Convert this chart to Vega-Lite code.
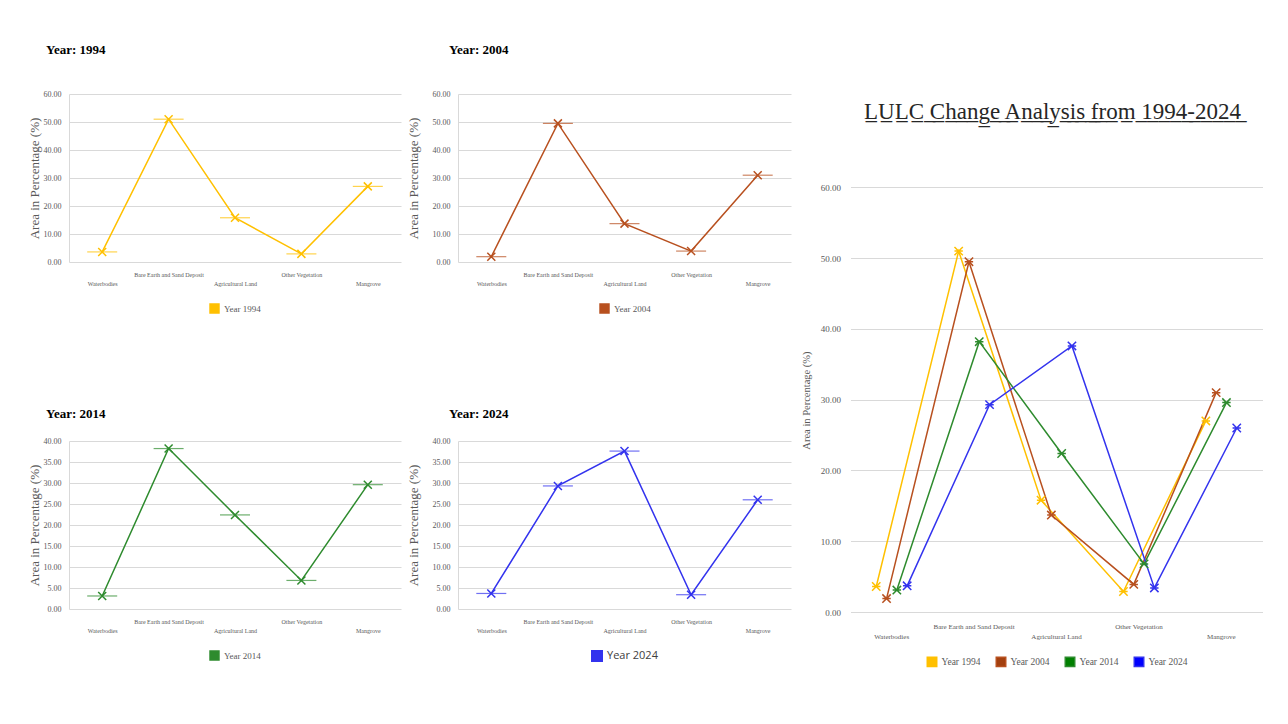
{
  "$schema": "https://vega.github.io/schema/vega-lite/v6.json",
  "background": "white",
  "padding": {"left": 28, "top": 44, "right": 0, "bottom": 0},
  "autosize": {"type": "pad"},
  "config": {
    "font": "Liberation Serif",
    "view": {"stroke": null},
    "axis": {
      "labelFont": "Liberation Serif",
      "titleFont": "Liberation Serif",
      "labelColor": "#595959",
      "titleColor": "#595959",
      "titleFontWeight": "normal",
      "gridColor": "#D9D9D9",
      "domainColor": "#D9D9D9",
      "ticks": false
    },
    "legend": {
      "labelFont": "Liberation Serif",
      "labelColor": "#595959",
      "orient": "bottom",
      "title": null,
      "layout": {"bottom": {"anchor": "middle", "bounds": "full"}}
    },
    "title": {"font": "Liberation Serif", "color": "#000000"}
  },
  "data": {
    "values": [
      {"Year": "Year 1994", "Class": "Waterbodies", "Area": 3.6},
      {"Year": "Year 1994", "Class": "Bare Earth and Sand Deposit", "Area": 51.0},
      {"Year": "Year 1994", "Class": "Agricultural Land", "Area": 15.8},
      {"Year": "Year 1994", "Class": "Other Vegetation", "Area": 2.9},
      {"Year": "Year 1994", "Class": "Mangrove", "Area": 27.0},
      {"Year": "Year 2004", "Class": "Waterbodies", "Area": 1.9},
      {"Year": "Year 2004", "Class": "Bare Earth and Sand Deposit", "Area": 49.5},
      {"Year": "Year 2004", "Class": "Agricultural Land", "Area": 13.7},
      {"Year": "Year 2004", "Class": "Other Vegetation", "Area": 3.9},
      {"Year": "Year 2004", "Class": "Mangrove", "Area": 31.0},
      {"Year": "Year 2014", "Class": "Waterbodies", "Area": 3.1},
      {"Year": "Year 2014", "Class": "Bare Earth and Sand Deposit", "Area": 38.2},
      {"Year": "Year 2014", "Class": "Agricultural Land", "Area": 22.4},
      {"Year": "Year 2014", "Class": "Other Vegetation", "Area": 6.8},
      {"Year": "Year 2014", "Class": "Mangrove", "Area": 29.6},
      {"Year": "Year 2024", "Class": "Waterbodies", "Area": 3.7},
      {"Year": "Year 2024", "Class": "Bare Earth and Sand Deposit", "Area": 29.3},
      {"Year": "Year 2024", "Class": "Agricultural Land", "Area": 37.6},
      {"Year": "Year 2024", "Class": "Other Vegetation", "Area": 3.4},
      {"Year": "Year 2024", "Class": "Mangrove", "Area": 26.0}
    ]
  },
  "resolve": {"scale": {"color": "independent", "x": "independent", "y": "independent"}, "legend": {"color": "independent"}},
  "spacing": 9.5,
  "hconcat": [
    {
      "spacing": 92,
      "resolve": {"scale": {"color": "independent", "x": "independent", "y": "independent"}, "legend": {"color": "independent"}},
      "vconcat": [
        {
          "spacing": 6,
          "resolve": {"scale": {"color": "independent", "x": "independent", "y": "independent"}, "legend": {"color": "independent"}},
          "hconcat": [
            {
              "width": 332, "height": 168,
              "title": {"text": "Year: 1994", "anchor": "start", "frame": "group", "dx": -23, "offset": 33, "fontSize": 13, "fontWeight": "bold"},
              "transform": [{"filter": "datum.Year == 'Year 1994'"}],
              "encoding": {
                "x": {"field": "Class", "type": "nominal", "sort": ["Waterbodies", "Bare Earth and Sand Deposit", "Agricultural Land", "Other Vegetation", "Mangrove"], "scale": {"type": "point", "padding": 0.5},
                  "axis": {"title": null, "labelAngle": 0, "labelFontSize": 6, "labelPadding": 9, "labelLineHeight": 9, "labelOverlap": false, "labelLimit": 300, "grid": false, "domain": false,
                    "labelExpr": "indexof(['Bare Earth and Sand Deposit','Other Vegetation'], datum.label) >= 0 ? datum.label : ['', datum.label]"}},
                "y": {"field": "Area", "type": "quantitative", "scale": {"domain": [0, 60]},
                  "axis": {"values": [0, 10, 20, 30, 40, 50, 60], "format": ".2f", "title": "Area in Percentage (%)", "labelFontSize": 8, "labelPadding": 8, "titleFontSize": 13, "titlePadding": 2, "domain": true}},
                "color": {"field": "Year", "type": "nominal", "scale": {"domain": ["Year 1994"], "range": ["#FFC000"]},
                  "legend": {"symbolType": "square", "symbolSize": 80, "labelFontSize": 9, "offset": 17,
                    "encode": {"symbols": {"update": {"fill": {"value": "#FFC000"}, "stroke": {"value": "#FFC000"}, "shape": {"value": "square"}, "opacity": {"value": 1}}}}}}
              },
              "layer": [
                {"mark": {"type": "line", "strokeWidth": 1.5}},
                {"mark": {"type": "tick", "thickness": 1.2, "size": 30}},
                {"mark": {"type": "point", "shape": "M-1,-1L1,1M-1,1L1,-1", "filled": false, "size": 64, "strokeWidth": 1.5, "opacity": 1}}
              ]
            },
            {
              "width": 333, "height": 168,
              "title": {"text": "Year: 2004", "anchor": "start", "frame": "group", "dx": -9, "offset": 33, "fontSize": 13, "fontWeight": "bold"},
              "transform": [{"filter": "datum.Year == 'Year 2004'"}],
              "encoding": {
                "x": {"field": "Class", "type": "nominal", "sort": ["Waterbodies", "Bare Earth and Sand Deposit", "Agricultural Land", "Other Vegetation", "Mangrove"], "scale": {"type": "point", "padding": 0.5},
                  "axis": {"title": null, "labelAngle": 0, "labelFontSize": 6, "labelPadding": 9, "labelLineHeight": 9, "labelOverlap": false, "labelLimit": 300, "grid": false, "domain": false,
                    "labelExpr": "indexof(['Bare Earth and Sand Deposit','Other Vegetation'], datum.label) >= 0 ? datum.label : ['', datum.label]"}},
                "y": {"field": "Area", "type": "quantitative", "scale": {"domain": [0, 60]},
                  "axis": {"values": [0, 10, 20, 30, 40, 50, 60], "format": ".2f", "title": "Area in Percentage (%)", "labelFontSize": 8, "labelPadding": 8, "titleFontSize": 13, "titlePadding": 12, "domain": true}},
                "color": {"field": "Year", "type": "nominal", "scale": {"domain": ["Year 2004"], "range": ["#B8501F"]},
                  "legend": {"symbolType": "square", "symbolSize": 80, "labelFontSize": 9, "offset": 17,
                    "encode": {"symbols": {"update": {"fill": {"value": "#A3400F"}, "stroke": {"value": "#A3400F"}, "shape": {"value": "square"}, "opacity": {"value": 1}}}}}}
              },
              "layer": [
                {"mark": {"type": "line", "strokeWidth": 1.5}},
                {"mark": {"type": "tick", "thickness": 1.2, "size": 30}},
                {"mark": {"type": "point", "shape": "M-1,-1L1,1M-1,1L1,-1", "filled": false, "size": 64, "strokeWidth": 1.5, "opacity": 1}}
              ]
            }
          ]
        },
        {
          "spacing": 6,
          "resolve": {"scale": {"color": "independent", "x": "independent", "y": "independent"}, "legend": {"color": "independent"}},
          "hconcat": [
            {
              "width": 332, "height": 168,
              "title": {"text": "Year: 2014", "anchor": "start", "frame": "group", "dx": -23, "offset": 16, "fontSize": 13, "fontWeight": "bold"},
              "transform": [{"filter": "datum.Year == 'Year 2014'"}],
              "encoding": {
                "x": {"field": "Class", "type": "nominal", "sort": ["Waterbodies", "Bare Earth and Sand Deposit", "Agricultural Land", "Other Vegetation", "Mangrove"], "scale": {"type": "point", "padding": 0.5},
                  "axis": {"title": null, "labelAngle": 0, "labelFontSize": 6, "labelPadding": 9, "labelLineHeight": 9, "labelOverlap": false, "labelLimit": 300, "grid": false, "domain": false,
                    "labelExpr": "indexof(['Bare Earth and Sand Deposit','Other Vegetation'], datum.label) >= 0 ? datum.label : ['', datum.label]"}},
                "y": {"field": "Area", "type": "quantitative", "scale": {"domain": [0, 40]},
                  "axis": {"values": [0, 5, 10, 15, 20, 25, 30, 35, 40], "format": ".2f", "title": "Area in Percentage (%)", "labelFontSize": 8, "labelPadding": 8, "titleFontSize": 13, "titlePadding": 2, "domain": true}},
                "color": {"field": "Year", "type": "nominal", "scale": {"domain": ["Year 2014"], "range": ["#2E8B2E"]},
                  "legend": {"symbolType": "square", "symbolSize": 80, "labelFontSize": 9, "offset": 17,
                    "encode": {"symbols": {"update": {"fill": {"value": "#008000"}, "stroke": {"value": "#008000"}, "shape": {"value": "square"}, "opacity": {"value": 1}}}}}}
              },
              "layer": [
                {"mark": {"type": "line", "strokeWidth": 1.5}},
                {"mark": {"type": "tick", "thickness": 1.2, "size": 30}},
                {"mark": {"type": "point", "shape": "M-1,-1L1,1M-1,1L1,-1", "filled": false, "size": 64, "strokeWidth": 1.5, "opacity": 1}}
              ]
            },
            {
              "width": 333, "height": 168,
              "title": {"text": "Year: 2024", "anchor": "start", "frame": "group", "dx": -9, "offset": 16, "fontSize": 13, "fontWeight": "bold"},
              "transform": [{"filter": "datum.Year == 'Year 2024'"}],
              "encoding": {
                "x": {"field": "Class", "type": "nominal", "sort": ["Waterbodies", "Bare Earth and Sand Deposit", "Agricultural Land", "Other Vegetation", "Mangrove"], "scale": {"type": "point", "padding": 0.5},
                  "axis": {"title": null, "labelAngle": 0, "labelFontSize": 6, "labelPadding": 9, "labelLineHeight": 9, "labelOverlap": false, "labelLimit": 300, "grid": false, "domain": false,
                    "labelExpr": "indexof(['Bare Earth and Sand Deposit','Other Vegetation'], datum.label) >= 0 ? datum.label : ['', datum.label]"}},
                "y": {"field": "Area", "type": "quantitative", "scale": {"domain": [0, 40]},
                  "axis": {"values": [0, 5, 10, 15, 20, 25, 30, 35, 40], "format": ".2f", "title": "Area in Percentage (%)", "labelFontSize": 8, "labelPadding": 8, "titleFontSize": 13, "titlePadding": 12, "domain": true}},
                "color": {"field": "Year", "type": "nominal", "scale": {"domain": ["Year 2024"], "range": ["#3333EE"]},
                  "legend": {"symbolType": "square", "symbolSize": 110, "labelFontSize": 11, "labelFont": "Open Sans", "labelColor": "#404040", "offset": 17,
                    "encode": {"symbols": {"update": {"fill": {"value": "#0000FF"}, "stroke": {"value": "#0000FF"}, "shape": {"value": "square"}, "opacity": {"value": 1}}}}}}
              },
              "layer": [
                {"mark": {"type": "line", "strokeWidth": 1.5}},
                {"mark": {"type": "tick", "thickness": 1.2, "size": 30}},
                {"mark": {"type": "point", "shape": "M-1,-1L1,1M-1,1L1,-1", "filled": false, "size": 64, "strokeWidth": 1.5, "opacity": 1}}
              ]
            }
          ]
        }
      ]
    },
    {
      "width": 412, "height": 518,
      "title": {"text": "L̲U̲L̲C̲ ̲C̲h̲a̲n̲g̲e̲ ̲A̲n̲a̲l̲y̲s̲i̲s̲ ̲f̲r̲o̲m̲ ̲1̲9̲9̲4̲-̲2̲0̲2̲4̲", "anchor": "middle", "frame": "group", "fontSize": 23, "fontWeight": "normal", "color": "#262626", "offset": -30, "dx": -4},
      "encoding": {
        "x": {"field": "Class", "type": "nominal", "sort": ["Waterbodies", "Bare Earth and Sand Deposit", "Agricultural Land", "Other Vegetation", "Mangrove"], "scale": {"type": "band", "paddingInner": 0.375, "paddingOuter": 0.1875},
          "axis": {"title": null, "labelAngle": 0, "labelFontSize": 7, "labelPadding": 10, "labelLineHeight": 10, "labelOverlap": false, "labelLimit": 300, "grid": false, "domain": false,
            "labelExpr": "indexof(['Bare Earth and Sand Deposit','Other Vegetation'], datum.label) >= 0 ? datum.label : ['', datum.label]"}},
        "xOffset": {"field": "Year", "type": "nominal", "sort": ["Year 1994", "Year 2004", "Year 2014", "Year 2024"], "scale": {"type": "point", "padding": 1}},
        "y": {"field": "Area", "type": "quantitative", "scale": {"domain": [0, 73.2], "nice": false},
          "axis": {"values": [0, 10, 20, 30, 40, 50, 60], "format": ".2f", "title": "Area in Percentage (%)", "labelFontSize": 9, "labelPadding": 10, "titleFontSize": 10.5, "titlePadding": 9, "titleY": 306, "domain": false}},
        "color": {"field": "Year", "type": "nominal", "scale": {"domain": ["Year 1994", "Year 2004", "Year 2014", "Year 2024"], "range": ["#FFC000", "#B8501F", "#2E8B2E", "#3333EE"]},
          "legend": {"symbolType": "square", "symbolSize": 90, "labelFontSize": 9.5, "offset": 17, "columnPadding": 12,
            "encode": {"symbols": {"update": {"fill": {"signal": "datum.value == 'Year 1994' ? '#FFC000' : datum.value == 'Year 2004' ? '#A3400F' : datum.value == 'Year 2014' ? '#008000' : '#0000FF'"}, "stroke": {"value": "transparent"}, "shape": {"value": "square"}, "opacity": {"value": 1}}}}}}
      },
      "layer": [
        {"mark": {"type": "line", "strokeWidth": 1.5}},
        {"mark": {"type": "point", "shape": "M-1,-1L1,1M-1,1L1,-1M-1,0L1,0", "filled": false, "size": 70, "strokeWidth": 1.5, "opacity": 1}}
      ]
    }
  ]
}
